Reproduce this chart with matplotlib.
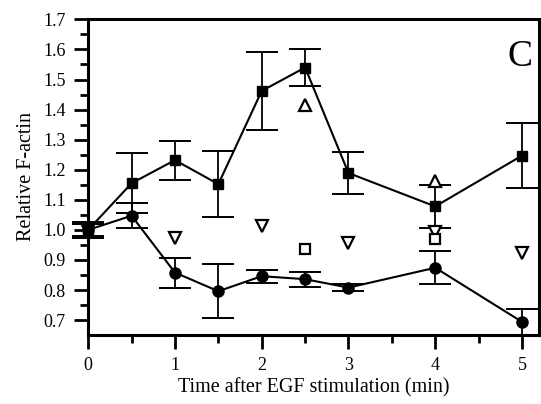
import matplotlib.pyplot as plt
from matplotlib.ticker import MultipleLocator

plt.rcParams['font.family'] = ['Liberation Serif', 'DejaVu Serif']

# filled squares with line
sq_t = [0, 0.5, 1, 1.5, 2, 2.5, 3, 4, 5]
sq_y = [1.00, 1.155, 1.232, 1.152, 1.462, 1.540, 1.189, 1.078, 1.247]
sq_err = [0.02, 0.10, 0.065, 0.11, 0.13, 0.06, 0.07, 0.072, 0.108]

# filled circles with line
ci_t = [0, 0.5, 1, 1.5, 2, 2.5, 3, 4, 5]
ci_y = [1.00, 1.047, 0.858, 0.796, 0.846, 0.836, 0.808, 0.874, 0.694]
ci_err = [0.026, 0.041, 0.05, 0.09, 0.022, 0.025, 0.011, 0.055, 0.043]

# open markers, no line
tdown_t = [0, 1, 2, 3, 4, 5]
tdown_y = [0.997, 0.972, 1.013, 0.958, 0.993, 0.922]
tup_t = [2.5, 4]
tup_y = [1.415, 1.163]
osq_t = [2.5, 4]
osq_y = [0.937, 0.969]

fig = plt.figure(figsize=(5.41, 4.04), dpi=100)
ax = fig.add_axes([0.163, 0.172, 0.834, 0.78])

eb = dict(color='black', lw=1.5, capsize=11.5, capthick=1.4, elinewidth=1.3)
ax.errorbar(sq_t, sq_y, yerr=sq_err, fmt='-s', ms=7, mfc='black', mec='black', **eb)
ax.errorbar(ci_t, ci_y, yerr=ci_err, fmt='-o', ms=8, mfc='black', mec='black', **eb)
ax.plot(tdown_t, tdown_y, 'v', ms=8.5, mfc='white', mec='black', mew=1.6, ls='none')
ax.plot(tup_t, tup_y, '^', ms=8.5, mfc='white', mec='black', mew=1.6, ls='none')
ax.plot(osq_t, osq_y, 's', ms=6.5, mfc='white', mec='black', mew=1.6, ls='none')

# let the marks at x=0 overhang the left spine as in the original
for line in ax.lines:
    line.set_clip_on(False)
for coll in ax.collections:
    coll.set_clip_on(False)

ax.set_xlim(0, 5.2)
ax.set_ylim(0.652, 1.70)
ax.xaxis.set_major_locator(MultipleLocator(1))
ax.xaxis.set_minor_locator(MultipleLocator(0.5))
ax.yaxis.set_minor_locator(MultipleLocator(0.05))
ax.set_yticks([0.7, 0.8, 0.9, 1.0, 1.1, 1.2, 1.3, 1.4, 1.5, 1.6, 1.7])
ax.set_yticklabels(['0.7', '0.8', '0.9', '1.0', '1.1', '1.2', '1.3', '1.4', '1.5', '1.6', '1.7'])

ax.tick_params(which='major', direction='out', length=10, width=2, labelsize=13, pad=6)
ax.tick_params(which='minor', direction='out', length=6, width=2)
for s in ax.spines.values():
    s.set_linewidth(2.2)

ax.set_xlabel('Time after EGF stimulation (min)', fontsize=14.5, labelpad=3)
ax.set_ylabel('Relative F-actin', fontsize=14.5, labelpad=5)
ax.text(0.985, 0.935, 'C', transform=ax.transAxes, ha='right', va='top', fontsize=27)

fig.savefig('out.png', dpi=100)
